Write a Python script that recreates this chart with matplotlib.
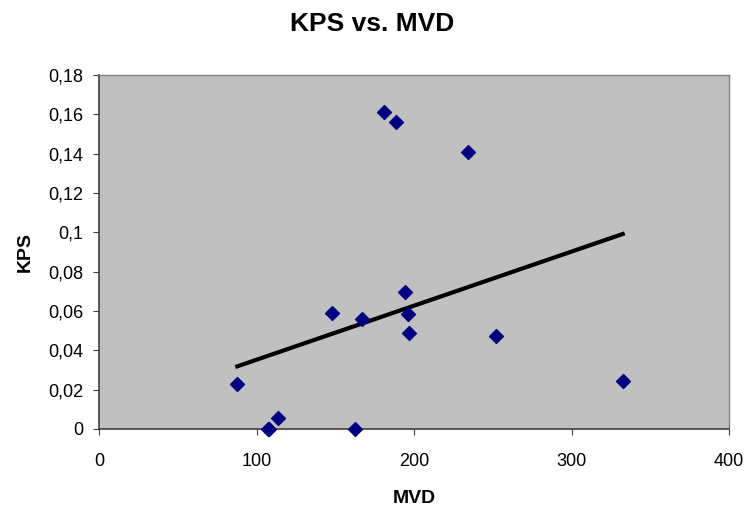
import numpy as np
import matplotlib
matplotlib.use('Agg')
import matplotlib.pyplot as plt
from matplotlib.ticker import FuncFormatter

plt.rcParams['font.family'] = ['Liberation Sans', 'DejaVu Sans']

# data
mvd = [87.8, 107.1, 108.0, 113.5, 162.5, 147.7, 167.2, 194.3, 196.4, 197.0,
       181.1, 188.4, 234.1, 252.1, 332.5]
kps = [0.0227, 0.0, 0.0, 0.0056, 0.0, 0.0588, 0.0559, 0.0695, 0.0583, 0.0487,
       0.1613, 0.1563, 0.141, 0.0474, 0.0246]
x_ticks = [0, 100, 200, 300, 400]
y_ticks = [0, 0.02, 0.04, 0.06, 0.08, 0.1, 0.12, 0.14, 0.16, 0.18]

fig = plt.figure(figsize=(7.45, 5.11), dpi=100)
ax = fig.add_axes([0.133, 0.1605, 0.8455, 0.6925])
ax.set_facecolor('#C0C0C0')

ax.scatter(mvd, kps, marker='D', s=50, color='#000080', zorder=3, clip_on=False)

# linear trendline
slope, icpt = np.polyfit(mvd, kps, 1)
xl = np.array([min(mvd), max(mvd)])
ax.plot(xl, slope * xl + icpt, color='black', lw=3, zorder=2)

ax.set_xlim(0, 400)
ax.set_ylim(0, 0.18)
ax.set_xticks(x_ticks)
ax.set_yticks(y_ticks)
ax.yaxis.set_major_formatter(FuncFormatter(lambda v, p: ('%g' % round(v, 2)).replace('.', ',')))
ax.tick_params(direction='out', length=4.5, labelsize=13, color='#404040')
ax.tick_params(axis='x', pad=13)
ax.tick_params(axis='y', pad=7)

for s in ['top', 'right']:
    ax.spines[s].set_color('#808080')
    ax.spines[s].set_linewidth(1)
for s in ['left', 'bottom']:
    ax.spines[s].set_color('#404040')
    ax.spines[s].set_linewidth(1.2)

ax.set_xlabel('MVD', fontsize=14, fontweight='bold', labelpad=14)
ax.set_ylabel('KPS', fontsize=14, fontweight='bold', labelpad=10)
fig.suptitle('KPS vs. MVD', fontsize=19, fontweight='bold', y=0.977)

fig.savefig('out.png', dpi=100)
